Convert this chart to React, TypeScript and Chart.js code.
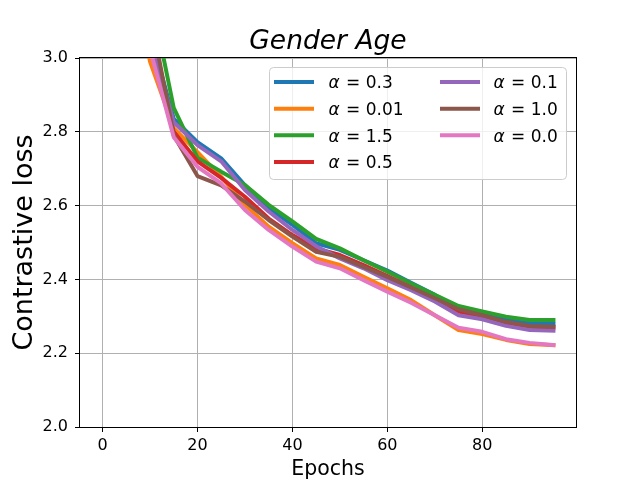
import React, { useEffect, useRef } from "react";
import { Chart, registerables } from "chart.js";

Chart.register(...registerables);

// ---- data ----
const epochs = [0, 5, 10, 15, 20, 25, 30, 35, 40, 45, 50, 55, 60, 65, 70, 75, 80, 85, 90, 95];
const seriesLabels = ["0.3", "0.01", "1.5", "0.5", "0.1", "1.0", "0.0"];
const alpha03 = [4.2, 3.45, 3.07, 2.835, 2.772, 2.728, 2.655, 2.593, 2.548, 2.498, 2.48, 2.452, 2.424, 2.391, 2.358, 2.322, 2.308, 2.292, 2.281, 2.279];
const alpha001 = [4.1, 3.35, 2.99, 2.81, 2.745, 2.678, 2.602, 2.543, 2.498, 2.457, 2.439, 2.407, 2.376, 2.344, 2.303, 2.263, 2.252, 2.236, 2.225, 2.222];
const alpha15 = [4.5, 3.6, 3.18, 2.865, 2.73, 2.692, 2.656, 2.602, 2.557, 2.51, 2.484, 2.452, 2.421, 2.389, 2.358, 2.328, 2.313, 2.299, 2.29, 2.29];
const alpha05 = [4.2, 3.45, 3.04, 2.8, 2.72, 2.675, 2.624, 2.565, 2.52, 2.484, 2.466, 2.439, 2.409, 2.378, 2.346, 2.313, 2.299, 2.281, 2.272, 2.27];
const alpha01 = [4.2, 3.45, 3.056, 2.826, 2.764, 2.72, 2.642, 2.584, 2.534, 2.49, 2.457, 2.43, 2.398, 2.371, 2.34, 2.303, 2.292, 2.274, 2.263, 2.261];
const alpha10 = [4.3, 3.5, 3.126, 2.79, 2.68, 2.655, 2.611, 2.561, 2.516, 2.475, 2.461, 2.434, 2.407, 2.378, 2.349, 2.319, 2.303, 2.285, 2.274, 2.272];
const alpha00 = [4.2, 3.4, 3.024, 2.785, 2.705, 2.66, 2.588, 2.534, 2.489, 2.448, 2.43, 2.398, 2.367, 2.337, 2.303, 2.269, 2.258, 2.238, 2.228, 2.222];
const seriesValues = [alpha03, alpha001, alpha15, alpha05, alpha01, alpha10, alpha00];
const seriesColors = ["#1f77b4", "#ff7f0e", "#2ca02c", "#d62728", "#9467bd", "#8c564b", "#e377c2"];
const xTicks = [0, 20, 40, 60, 80];
const yTicks = [2.0, 2.2, 2.4, 2.6, 2.8, 3.0];

const titleText = "Gender Age";
const xTitle = "Epochs";
const yTitle = "Contrastive loss";
const FONT = "'DejaVu Sans', 'Liberation Sans', sans-serif";

const decorPlugin = {
  id: "decor",
  afterDatasetsDraw(chart: any) {
    const { ctx, chartArea } = chart;
    const { left, right, top, bottom } = chartArea;
    ctx.save();
    ctx.strokeStyle = "#000";
    ctx.lineWidth = 1;
    ctx.strokeRect(Math.round(left) - 0.5, Math.round(top) - 0.5, Math.round(right - left) + 1, Math.round(bottom - top) + 1);
    ctx.restore();
  },
  afterDraw(chart: any) {
    const { ctx, chartArea } = chart;
    const { left, right, top, bottom } = chartArea;
    const cx = (left + right) / 2;
    ctx.save();
    ctx.fillStyle = "#000";
    // title
    ctx.font = `italic 26.5px ${FONT}`;
    ctx.textAlign = "center";
    ctx.textBaseline = "alphabetic";
    ctx.fillText(titleText, cx, 48.5);
    // x title
    ctx.font = `20.5px ${FONT}`;
    ctx.fillText(xTitle, cx, 475);
    // y title
    ctx.save();
    ctx.translate(32, (top + bottom) / 2);
    ctx.rotate(-Math.PI / 2);
    ctx.font = `27px ${FONT}`;
    ctx.fillText(yTitle, 0, 0);
    ctx.restore();

    // legend
    const lx = 269.5, ly = 67.5, lw = 297, lh = 112;
    ctx.beginPath();
    if ((ctx as any).roundRect) (ctx as any).roundRect(lx, ly, lw, lh, 4);
    else ctx.rect(lx, ly, lw, lh);
    ctx.fillStyle = "rgba(255,255,255,0.8)";
    ctx.fill();
    ctx.strokeStyle = "#cccccc";
    ctx.lineWidth = 1;
    ctx.stroke();

    const rowsY = [82, 108.7, 135.3, 162];
    const cols = [
      { hx0: 274, hx1: 314, tx: 328.5 },
      { hx0: 440, hx1: 480, tx: 493.5 },
    ];
    seriesLabels.forEach((lab, i) => {
      const col = i < 4 ? cols[0] : cols[1];
      const y = rowsY[i < 4 ? i : i - 4];
      ctx.strokeStyle = seriesColors[i];
      ctx.lineWidth = 4;
      ctx.lineCap = "butt";
      ctx.beginPath();
      ctx.moveTo(col.hx0, y);
      ctx.lineTo(col.hx1, y);
      ctx.stroke();
      ctx.fillStyle = "#000";
      ctx.textAlign = "left";
      ctx.textBaseline = "alphabetic";
      ctx.font = `italic 17px ${FONT}`;
      ctx.fillText("α", col.tx, y + 6.3);
      const aw = ctx.measureText("α").width;
      ctx.font = `17px ${FONT}`;
      ctx.fillText(" = " + lab, col.tx + aw + 1, y + 6.3);
    });
    ctx.restore();
  },
};

export default function App() {
  const canvasRef = useRef<HTMLCanvasElement | null>(null);

  useEffect(() => {
    const canvas = canvasRef.current;
    if (!canvas) return;
    const n = seriesValues.length;
    const chart = new Chart(canvas, {
      type: "line",
      data: {
        datasets: seriesValues.map((vals, i) => ({
          label: "α = " + seriesLabels[i],
          data: epochs.map((e, j) => ({ x: e, y: vals[j] })),
          borderColor: seriesColors[i],
          backgroundColor: seriesColors[i],
          borderWidth: 4,
          pointRadius: 0,
          pointHoverRadius: 0,
          tension: 0,
          fill: false,
          borderJoinStyle: "round" as const,
          borderCapStyle: "square" as const,
          order: n - i,
        })),
      },
      options: {
        animation: false,
        responsive: false,
        events: [],
        layout: { padding: { top: 58, right: 64, left: 0, bottom: 0 } },
        plugins: {
          legend: { display: false },
          title: { display: false },
          tooltip: { enabled: false },
        },
        scales: {
          x: {
            type: "linear",
            min: -4.75,
            max: 99.75,
            afterBuildTicks: (s: any) => {
              s.ticks = xTicks.map((v) => ({ value: v }));
            },
            afterFit: (s: any) => {
              s.height = 53;
            },
            ticks: {
              color: "#000",
              font: { family: FONT, size: 16 },
              padding: 4,
              maxRotation: 0,
              autoSkip: false,
              callback: (v: any) => String(v),
            },
            grid: { color: "#b0b0b0", lineWidth: 1, tickColor: "#000", tickLength: 5, tickWidth: 1 },
            border: { display: false },
          },
          y: {
            type: "linear",
            min: 2.0,
            max: 3.0,
            afterBuildTicks: (s: any) => {
              s.ticks = yTicks.map((v) => ({ value: v }));
            },
            afterFit: (s: any) => {
              s.width = 80;
            },
            ticks: {
              color: "#000",
              font: { family: FONT, size: 16 },
              padding: 7,
              autoSkip: false,
              callback: (v: any) => Number(v).toFixed(1),
            },
            grid: { color: "#b0b0b0", lineWidth: 1, tickColor: "#000", tickLength: 5, tickWidth: 1 },
            border: { display: false },
          },
        },
      },
      plugins: [decorPlugin],
    });
    return () => chart.destroy();
  }, []);

  return (
    <div style={{ position: "absolute", left: 0, top: 0, width: 640, height: 480, background: "#fff" }}>
      <canvas ref={canvasRef} width={640} height={480} style={{ display: "block", width: 640, height: 480 }} />
    </div>
  );
}
